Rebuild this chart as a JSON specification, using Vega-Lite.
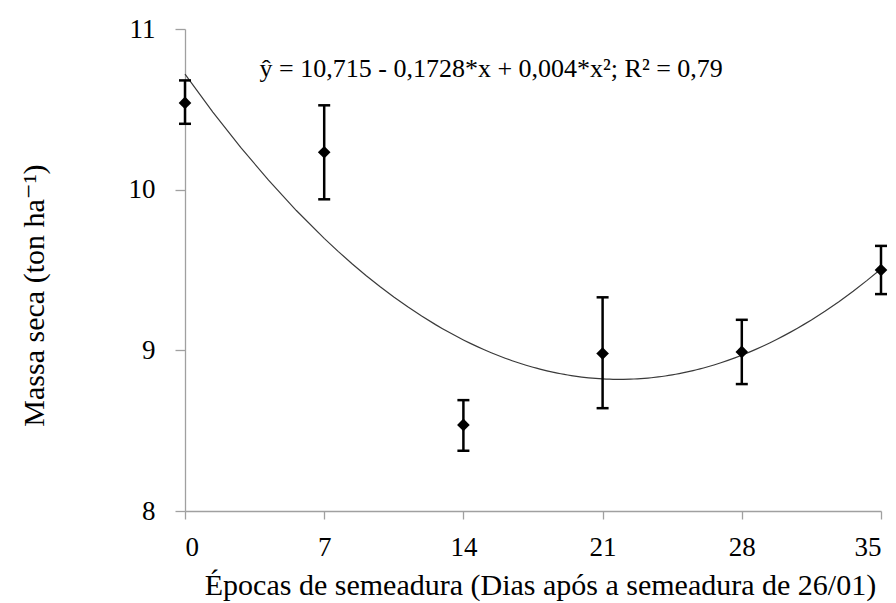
{
  "$schema": "https://vega.github.io/schema/vega-lite/v6.json",
  "width": 696,
  "height": 482,
  "autosize": "none",
  "padding": {"left": 185, "top": 29, "right": 15, "bottom": 92},
  "background": "white",
  "config": {
    "view": {"stroke": null},
    "font": "Times New Roman, Liberation Serif, DejaVu Serif, serif",
    "axis": {
      "domainColor": "#a0a0a0",
      "tickColor": "#a0a0a0",
      "domainWidth": 1.3,
      "tickWidth": 1.3,
      "grid": false,
      "labelColor": "black",
      "titleColor": "black",
      "labelFont": "Times New Roman, Liberation Serif, DejaVu Serif, serif",
      "titleFont": "Times New Roman, Liberation Serif, DejaVu Serif, serif",
      "titleFontWeight": "normal",
      "labelFontSize": 27,
      "titleFontSize": 30
    }
  },
  "datasets": {
    "pts": [
      {"dia": 0, "massa": 10.54, "lo": 10.41, "hi": 10.68},
      {"dia": 7, "massa": 10.233, "lo": 9.94, "hi": 10.525},
      {"dia": 14, "massa": 8.536, "lo": 8.375, "hi": 8.69},
      {"dia": 21, "massa": 8.98, "lo": 8.64, "hi": 9.33},
      {"dia": 28, "massa": 8.99, "lo": 8.79, "hi": 9.19},
      {"dia": 35, "massa": 9.5, "lo": 9.35, "hi": 9.65}
    ],
    "eq": [
      {"dia": 3.75, "massa": 10.70, "label": "ŷ = 10,715 - 0,1728*x + 0,004*x²; R² = 0,79"}
    ]
  },
  "layer": [
    {
      "data": {"name": "pts"},
      "transform": [
        {"regression": "massa", "on": "dia", "method": "poly", "order": 2}
      ],
      "mark": {"type": "line", "color": "#3a3a3a", "strokeWidth": 1.2},
      "encoding": {
        "x": {
          "field": "dia", "type": "quantitative",
          "scale": {"domain": [0, 35], "nice": false, "zero": false},
          "axis": {
            "values": [0, 7, 14, 21, 28, 35],
            "format": "d",
            "title": "Épocas de semeadura (Dias após a semeadura de 26/01)",
            "tickSize": 8,
            "labelPadding": 15,
            "titleX": 355,
            "titleY": 83,
            "titleAlign": "center",
            "titleBaseline": "alphabetic"
          }
        },
        "y": {
          "field": "massa", "type": "quantitative",
          "scale": {"domain": [8, 11], "nice": false, "zero": false},
          "axis": {
            "values": [8, 9, 10, 11],
            "format": "d",
            "title": "Massa seca (ton ha⁻¹)",
            "tickSize": 10,
            "labelPadding": 20,
            "titleX": -142,
            "titleY": 266,
            "titleAlign": "center",
            "titleBaseline": "alphabetic",
            "titleAngle": -90
          }
        }
      }
    },
    {
      "data": {"name": "pts"},
      "mark": {"type": "rule", "color": "black", "strokeWidth": 2.5},
      "encoding": {
        "x": {"field": "dia", "type": "quantitative"},
        "y": {"field": "lo", "type": "quantitative"},
        "y2": {"field": "hi"}
      }
    },
    {
      "data": {"name": "pts"},
      "mark": {"type": "tick", "orient": "horizontal", "color": "black", "size": 12, "thickness": 2.5, "opacity": 1},
      "encoding": {
        "x": {"field": "dia", "type": "quantitative"},
        "y": {"field": "lo", "type": "quantitative"}
      }
    },
    {
      "data": {"name": "pts"},
      "mark": {"type": "tick", "orient": "horizontal", "color": "black", "size": 12, "thickness": 2.5, "opacity": 1},
      "encoding": {
        "x": {"field": "dia", "type": "quantitative"},
        "y": {"field": "hi", "type": "quantitative"}
      }
    },
    {
      "data": {"name": "pts"},
      "mark": {"type": "point", "shape": "diamond", "filled": true, "color": "black", "size": 160, "opacity": 1},
      "encoding": {
        "x": {"field": "dia", "type": "quantitative"},
        "y": {"field": "massa", "type": "quantitative"}
      }
    },
    {
      "data": {"name": "eq"},
      "mark": {"type": "text", "align": "left", "baseline": "alphabetic", "fontSize": 26, "color": "black"},
      "encoding": {
        "x": {"field": "dia", "type": "quantitative"},
        "y": {"field": "massa", "type": "quantitative"},
        "text": {"field": "label"}
      }
    }
  ]
}
